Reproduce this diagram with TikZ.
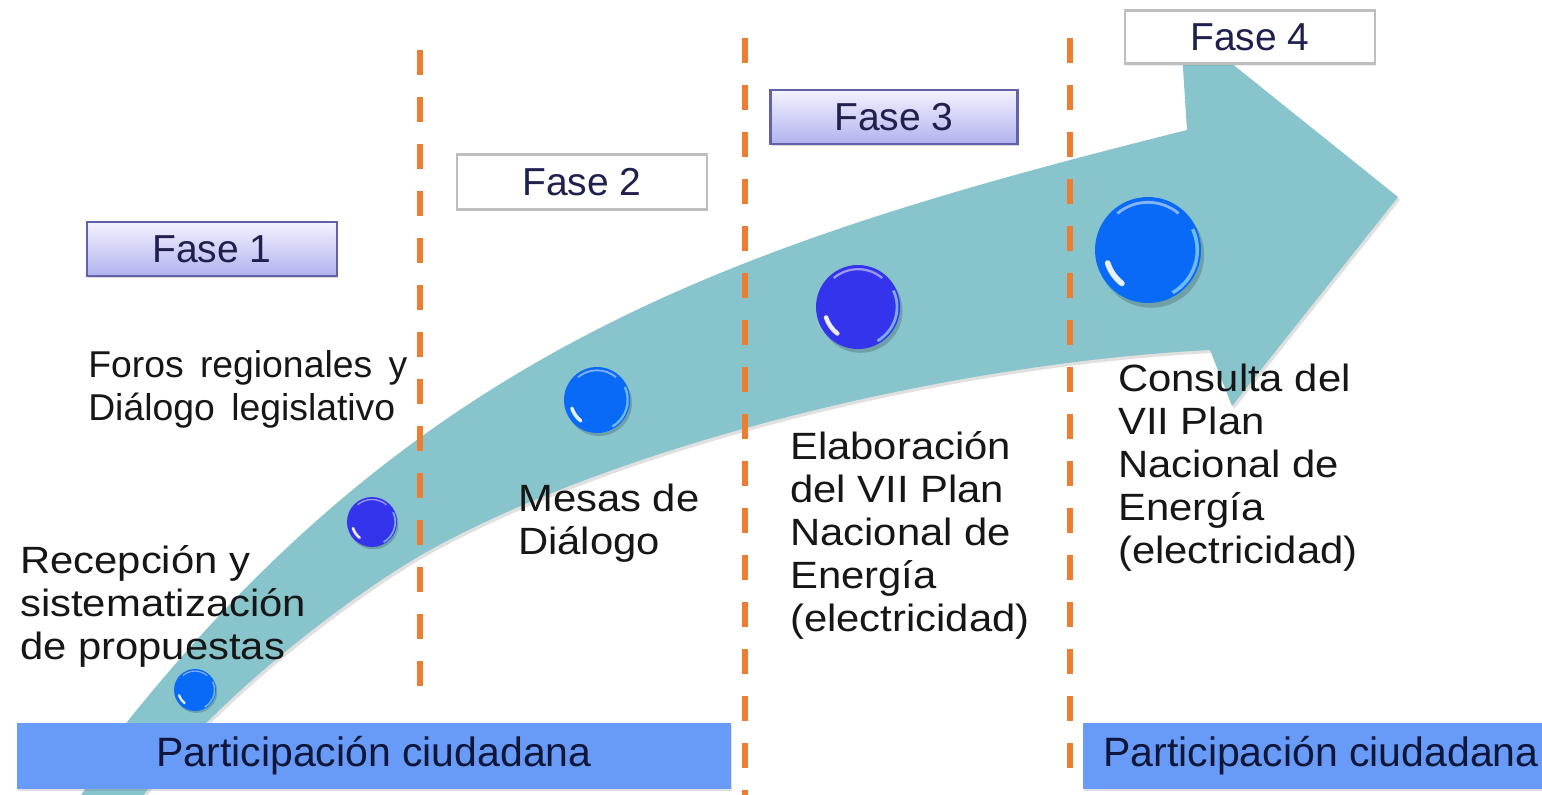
\documentclass[tikz,border=0pt]{standalone}
\usepackage{fontspec}
\setmainfont{Liberation Sans}
\newfontfamily\bodyfont[FakeStretch=1.1]{Liberation Sans}
\usetikzlibrary{shadows}
\definecolor{arrowteal}{RGB}{136,196,204}
\definecolor{sepor}{RGB}{237,125,49}
\definecolor{barblue}{RGB}{104,155,247}
\definecolor{dotA}{RGB}{10,106,248}
\definecolor{dotB}{RGB}{52,52,236}
\definecolor{fasetxt}{RGB}{32,32,78}
\definecolor{lavtop}{RGB}{242,242,255}
\definecolor{lavbot}{RGB}{178,178,240}
\definecolor{lavedge}{RGB}{98,98,168}
\definecolor{grayedge}{RGB}{190,190,190}
\definecolor{bodytxt}{RGB}{22,22,22}
\definecolor{bartxt}{RGB}{14,22,58}
\newcommand\arrowshape{(78,800) -- (127,722) .. controls (427,347) and (737,242.5) .. (1187,130) -- (1180,22) -- (1398,197) -- (1232,406) -- (1210,350) .. controls (960,362.5) and (630,440) .. (430,550) .. controls (360,588.5) and (210,700) .. (140,800) -- cycle}
\tikzset{
  fasebase/.style={rectangle, inner sep=0pt, text=fasetxt, font=\fontsize{29.25}{30}\selectfont, minimum width=187.5pt, minimum height=40pt},
  faselav/.style={fasebase, draw=lavedge, line width=1.6pt, top color=lavtop, bottom color=lavbot, drop shadow={shadow xshift=1pt, shadow yshift=-2pt, opacity=0.3}},
  fasewhite/.style={fasebase, draw=grayedge, line width=2.2pt, fill=white, drop shadow={shadow xshift=1pt, shadow yshift=-1.5pt, opacity=0.15}},
  sepline/.style={draw=sepor, line width=4.5pt, dash pattern=on 18.75pt off 16.5pt},
  bar/.style={rectangle, fill=barblue, inner sep=0pt, minimum height=49.5pt},
  bartext/.style={text=bartxt, inner sep=0pt, font=\fontsize{30.75}{32}\selectfont},
  bodytext/.style={text=bodytxt, inner sep=0pt, font=\bodyfont\fontsize{28.5}{32.25}\selectfont, anchor=base west},
  forostext/.style={text=bodytxt, inner sep=0pt, font=\fontsize{28}{32.25}\selectfont, anchor=base west},
  pics/ball/.style 2 args={code={
    \begin{scope}[x=0.75pt,y=0.75pt,scale=#1]
      \fill[black,opacity=0.18] (0.06,-0.09) circle[radius=1];
      \fill[#2] (0,0) circle[radius=1];
      \draw[white,opacity=0.5,line width={#1*0.04pt}] (50:0.9) arc[start angle=50,end angle=130,radius=0.9];
      \draw[cyan!40!white,opacity=0.7,line width={#1*0.05pt}] (-60:0.93) arc[start angle=-60,end angle=25,radius=0.93];
      \draw[white,opacity=0.9,line width={#1*0.08pt},line cap=round] (198:0.8) arc[start angle=198,end angle=232,radius=0.8];
    \end{scope}
  }}
}
\begin{document}
\begin{tikzpicture}[x=0.75pt,y=-0.75pt]
\useasboundingbox (0,0) rectangle (1542,794);
\begin{scope}
\clip (0,0) rectangle (1542,794);
% big curved arrow
\fill[black,opacity=0.12,shift={(2,3)}] \arrowshape;
\fill[arrowteal] \arrowshape;
% separators
\coordinate (s1t) at (420,50);  \coordinate (s1b) at (420,690);
\coordinate (s2t) at (745,38);  \coordinate (s2b) at (745,800);
\coordinate (s3t) at (1070,38); \coordinate (s3b) at (1070,770);
\draw[sepline] (s1t) -- (s1b);
\draw[sepline] (s2t) -- (s2b);
\draw[sepline] (s3t) -- (s3b);
% balls
\pic at (195,690) {ball={21}{dotA}};
\pic at (372,522) {ball={25}{dotB}};
\pic at (597,400) {ball={33}{dotA}};
\pic at (858,307) {ball={42}{dotB}};
\pic at (1148,250) {ball={53}{dotA}};
% bars
\node[bar, minimum width=535.5pt, drop shadow={shadow xshift=0.5pt, shadow yshift=-1.5pt, opacity=0.25}] (bar1) at (374,756) {};
\node[bartext] (pc1) at (374,756) {Participación ciudadana};
\node[bar, minimum width=360pt, anchor=west, drop shadow={shadow xshift=0.5pt, shadow yshift=-1.5pt, opacity=0.25}] (bar2) at (1083,756) {};
\node[bartext, anchor=west] (pc2) at (1103,756) {Participación ciudadana};
% texts
\node[forostext] (foros) at (88,377) {\vtop{\hbox{\makebox[239.25pt][s]{Foros regionales y}}\hbox{\makebox[230.25pt][s]{Diálogo legislativo}}}};
\node[bodytext] (recep) at (20,573) {\vtop{\hbox{Recepción y}\hbox{sistematización}\hbox{de propuestas}}};
\node[bodytext] (mesas) at (518,511) {\vtop{\hbox{Mesas de}\hbox{Diálogo}}};
\node[bodytext] (elab) at (790,459) {\vtop{\hbox{Elaboración}\hbox{del VII Plan}\hbox{Nacional de}\hbox{Energía}\hbox{(electricidad)}}};
\node[bodytext] (cons) at (1118,391) {\vtop{\hbox{Consulta del}\hbox{VII Plan}\hbox{Nacional de}\hbox{Energía}\hbox{(electricidad)}}};
% phase boxes
\node[faselav] (f1) at (212,249) {Fase 1};
\node[fasewhite, minimum height=41pt] (f2) at (582,182) {Fase 2};
\node[faselav, minimum width=185.25pt] (f3) at (894,117) {Fase 3};
\node[fasewhite] (f4) at (1250,37) {Fase 4};
\end{scope}
\end{tikzpicture}
\end{document}
